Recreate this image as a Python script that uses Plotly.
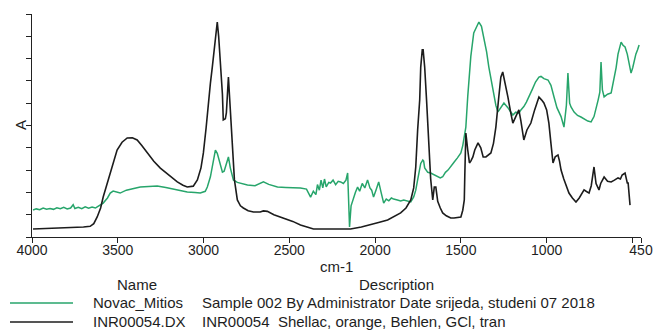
import plotly.graph_objects as go

# ---------------- data ----------------
series_names = ["Novac_Mitios", "INR00054.DX"]
series_desc = ["Sample 002 By Administrator Date srijeda, studeni 07 2018",
               "INR00054  Shellac, orange, Behlen, GCl, tran"]
series_colors = ["#27a56b", "#1c1c1c"]

wn_green = [3994, 3975, 3955, 3935, 3915, 3895, 3875, 3855, 3835, 3815, 3795, 3775, 3760, 3750,
            3730, 3710, 3690, 3670, 3650, 3630, 3620, 3585, 3560, 3544, 3527, 3505, 3486, 3450,
            3400, 3369, 3320, 3270, 3220, 3177, 3130, 3095, 3050, 3019, 2990, 2978, 2960, 2949,
            2931, 2920, 2914, 2902, 2890, 2880, 2873, 2861, 2855, 2844, 2838, 2826, 2803, 2770,
            2744, 2700, 2665, 2651, 2620, 2569, 2520, 2480, 2435, 2400, 2376, 2360, 2345, 2336,
            2325, 2315, 2305, 2295, 2285, 2270, 2260, 2245, 2230, 2215, 2201, 2185, 2170, 2160,
            2149, 2140, 2131, 2115, 2102, 2090, 2075, 2060, 2044, 2030, 2020, 2009, 1995, 1979,
            1965, 1950, 1935, 1920, 1905, 1892, 1870, 1851, 1833, 1810, 1792, 1775, 1763, 1752,
            1740, 1734, 1722, 1717, 1711, 1693, 1676, 1660, 1640, 1620, 1606, 1590, 1575, 1559,
            1540, 1520, 1500, 1489, 1477, 1471, 1460, 1454, 1442, 1425, 1410, 1395, 1380, 1366,
            1350, 1337, 1320, 1308, 1296, 1284, 1270, 1249, 1226, 1210, 1197, 1180, 1162, 1150,
            1133, 1118, 1103, 1085, 1065, 1045, 1033, 1016, 992, 975, 957, 940, 916, 899, 885,
            876, 866, 858, 840, 820, 800, 782, 760, 741, 724, 700, 690, 683, 675, 665, 645, 624,
            607, 595, 584, 566, 555, 543, 530, 520, 508, 498, 490, 480, 470, 461]
a_green = [1.21, 1.26, 1.22, 1.30, 1.25, 1.28, 1.24, 1.31, 1.27, 1.33, 1.26, 1.30, 1.45, 1.28,
           1.33, 1.27, 1.35, 1.29, 1.34, 1.30, 1.35, 1.52, 1.75, 1.97, 2.06, 2.00, 1.97, 2.10,
           2.20, 2.24, 2.27, 2.29, 2.22, 2.15, 2.08, 2.02, 1.99, 1.97, 2.05, 2.24, 2.70, 3.14,
           3.90, 3.75, 3.59, 3.20, 2.91, 2.95, 3.14, 3.45, 3.59, 3.10, 2.87, 2.56, 2.45, 2.38,
           2.33, 2.30, 2.42, 2.47, 2.36, 2.24, 2.22, 2.21, 2.20, 2.15, 1.79, 2.05, 1.90, 2.35,
           2.10, 2.55, 2.20, 2.60, 2.25, 2.45, 2.42, 2.55, 2.35, 2.50, 2.47, 2.40, 2.55, 2.87,
           0.45, 1.40, 1.66, 2.00, 2.24, 2.05, 2.40, 2.20, 2.56, 2.20, 2.10, 1.79, 2.10, 2.47,
           2.00, 1.52, 1.70, 1.62, 1.75, 1.70, 1.66, 1.62, 1.66, 1.60, 1.57, 1.80, 2.10, 2.56,
           3.00, 3.30, 3.45, 3.40, 3.10, 2.90, 2.87, 2.80, 2.70, 2.65, 2.70, 2.90, 3.00, 3.14,
           3.35, 3.55, 3.77, 4.10, 4.60, 4.93, 6.30, 7.00, 8.10, 9.15, 9.40, 9.64, 9.45, 8.97,
           8.30, 7.62, 6.90, 6.28, 5.90, 5.61, 5.75, 6.01, 5.80, 5.60, 5.47, 5.60, 5.55, 5.70,
           5.85, 6.05, 6.28, 6.60, 6.95, 7.17, 7.20, 7.10, 7.04, 6.80, 6.28, 5.80, 5.40, 4.93, 5.90,
           7.35, 6.00, 5.83, 5.60, 5.45, 5.38, 5.30, 5.20, 5.16, 5.40, 6.14, 6.50, 7.85, 6.60, 6.28,
           6.40, 6.46, 7.04, 7.60, 8.20, 8.74, 8.60, 8.52, 8.20, 7.80, 7.35, 7.60, 7.94, 8.20,
           8.40, 8.61]

wn_black = [3994, 3900, 3800, 3700, 3661, 3640, 3620, 3600, 3585, 3565, 3544, 3520, 3504, 3475,
            3445, 3415, 3387, 3360, 3328, 3290, 3252, 3200, 3153, 3120, 3095, 3060, 3036, 3015,
            3001, 2985, 2972, 2960, 2949, 2940, 2931, 2925, 2920, 2912, 2902, 2890, 2885, 2873,
            2867, 2861, 2855, 2850, 2844, 2838, 2832, 2820, 2803, 2785, 2768, 2740, 2709, 2670,
            2651, 2628, 2590, 2534, 2480, 2435, 2400, 2359, 2300, 2250, 2200, 2143, 2080, 2026,
            1980, 1927, 1890, 1851, 1820, 1792, 1775, 1763, 1752, 1740, 1734, 1725, 1720, 1711,
            1700, 1693, 1685, 1676, 1664, 1655, 1646, 1640, 1635, 1620, 1606, 1585, 1559, 1540,
            1518, 1500, 1489, 1480, 1477, 1471, 1460, 1450, 1442, 1430, 1419, 1400, 1384, 1370,
            1354, 1340, 1325, 1310, 1296, 1280, 1267, 1256, 1249, 1240, 1226, 1210, 1197, 1180,
            1162, 1150, 1133, 1115, 1092, 1070, 1045, 1030, 1016, 1000, 987, 975, 963, 950, 934,
            925, 916, 900, 870, 850, 829, 810, 795, 782, 770, 753, 740, 724, 712, 695, 685, 665,
            645, 624, 605, 584, 570, 560, 543, 530, 525, 514, 508]
a_black = [0.36, 0.38, 0.42, 0.45, 0.48, 0.60, 0.90, 1.30, 1.79, 2.30, 2.87, 3.50, 3.90, 4.25,
           4.44, 4.45, 4.35, 4.10, 3.77, 3.40, 3.09, 2.75, 2.47, 2.32, 2.24, 2.28, 2.56, 3.10,
           3.77, 4.90, 6.14, 6.90, 7.62, 8.30, 8.83, 9.30, 9.64, 9.00, 7.94, 6.40, 5.25, 5.30,
           5.56, 6.60, 7.17, 6.50, 5.60, 5.11, 3.80, 2.56, 1.66, 1.40, 1.30, 1.18, 1.12, 1.12,
           1.17, 1.15, 1.00, 0.85, 0.70, 0.54, 0.45, 0.36, 0.36, 0.36, 0.36, 0.36, 0.45, 0.54,
           0.65, 0.76, 0.90, 1.08, 1.30, 1.66, 2.20, 3.14, 4.80, 6.14, 7.62, 8.39, 8.39, 7.62,
           6.14, 5.00, 3.77, 2.60, 1.66, 2.24, 2.24, 1.66, 1.60, 1.30, 1.08, 0.95, 0.85, 0.85,
           0.88, 0.90, 1.20, 1.66, 2.80, 4.66, 3.90, 3.32, 3.40, 3.59, 3.90, 4.22, 4.00, 3.59,
           3.59, 3.70, 3.77, 4.20, 4.93, 6.20, 7.17, 7.40, 7.17, 6.80, 6.28, 5.60, 5.11, 5.40,
           5.70, 5.20, 4.35, 4.80, 5.11, 5.70, 6.28, 6.15, 6.01, 5.70, 5.11, 4.20, 3.32, 3.60,
           3.68, 3.40, 3.00, 2.60, 1.97, 1.75, 1.57, 1.75, 1.95, 2.11, 2.05, 1.97, 2.30, 3.14,
           2.40, 2.11, 2.40, 2.69, 2.50, 2.47, 2.55, 2.65, 2.60, 2.78, 2.87, 2.42, 2.42, 1.43]

x_tick_vals = [4000, 3500, 3000, 2500, 2000, 1500, 1000, 500, 450]
x_tick_text = ["4000", "3500", "3000", "2500", "2000", "1500", "1000", "", "450"]
y_tick_vals = [0, 1, 2, 3, 4, 5, 6, 7, 8, 9, 10]
x_title = "cm-1"
y_title = "A"

# ---------------- figure ----------------
FONT = "Liberation Sans, Arial, sans-serif"
TXT = "#1e1e1e"

fig = go.Figure()
fig.add_trace(go.Scatter(x=wn_green, y=a_green, mode="lines", name=series_names[0],
                         line=dict(color=series_colors[0], width=1.5)))
fig.add_trace(go.Scatter(x=wn_black, y=a_black, mode="lines", name=series_names[1],
                         line=dict(color=series_colors[1], width=1.6)))

L, R, T, B = 32, 12, 14, 98
W, H = 653, 335
pw, ph = W - L - R, H - T - B


def px(xp):
    return (xp - L) / pw


def py(yp):
    return (T + ph - yp) / ph


fig.update_layout(
    width=W, height=H,
    margin=dict(l=L, r=R, t=T, b=B, autoexpand=False),
    paper_bgcolor="white", plot_bgcolor="white",
    showlegend=False,
    font=dict(family=FONT, color=TXT, size=14),
    xaxis=dict(range=[4000, 450], tickmode="array", tickvals=x_tick_vals, ticktext=x_tick_text,
               automargin=False, ticklabelstandoff=-5,
               ticks="outside", ticklen=5, tickwidth=1.2, tickcolor="#222",
               showline=True, linecolor="#222", linewidth=1.2, showgrid=False, zeroline=False,
               tickfont=dict(family=FONT, size=14, color=TXT)),
    yaxis=dict(range=[0, 10], tickmode="array", tickvals=y_tick_vals, showticklabels=False,
               automargin=False,
               ticks="outside", ticklen=5, tickwidth=1.2, tickcolor="#222",
               showline=True, linecolor="#222", linewidth=1.2, showgrid=False, zeroline=False),
)

# axis titles and legend table
ann = [
    dict(text=x_title, x=px(336), y=py(266), size=15),
    dict(text=y_title, x=px(20), y=py(125), textangle=-90, size=15),
    dict(text="Name", x=px(137), y=py(284)),
    dict(text="Description", x=px(396), y=py(284)),
]
row_y = [302, 321]
shapes = []
for i in range(2):
    ann.append(dict(text=series_names[i], x=px(91), y=py(row_y[i]), xanchor="left"))
    ann.append(dict(text=series_desc[i], x=px(200), y=py(row_y[i]), xanchor="left"))
    shapes.append(dict(type="line", xref="paper", yref="paper", x0=px(10), x1=px(73),
                       y0=py(row_y[i] + 1), y1=py(row_y[i] + 1),
                       line=dict(color=series_colors[i], width=1.6)))
for a in ann:
    a.setdefault("xanchor", "center")
    size = a.pop("size", 15)
    a.update(xref="paper", yref="paper", yanchor="middle", showarrow=False,
             font=dict(family=FONT, size=size, color=TXT))
fig.update_layout(annotations=ann, shapes=shapes)

fig.write_html(
    "out.html",
    config={"displayModeBar": False},
    post_script="document.body.style.margin='0';document.body.style.padding='0';"
                "document.body.style.overflow='hidden';",
)
